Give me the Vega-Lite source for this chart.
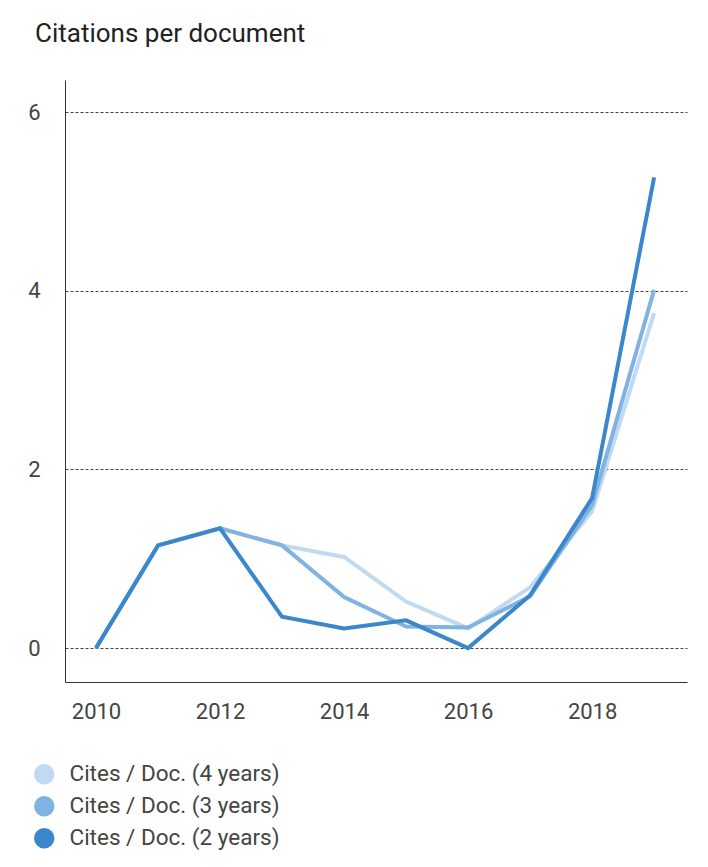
{
  "$schema": "https://vega.github.io/schema/vega-lite/v6.json",
  "width": 622,
  "height": 602,
  "autosize": {"type": "none"},
  "padding": {"left": 65, "top": 80, "right": 21, "bottom": 185},
  "background": "white",
  "title": {
    "text": "Citations per document",
    "anchor": "start",
    "frame": "group",
    "dx": -30,
    "offset": 33,
    "font": "Roboto",
    "fontSize": 26,
    "fontWeight": "normal",
    "color": "#222222"
  },
  "config": {
    "font": "Roboto",
    "view": {"stroke": null},
    "axis": {
      "labelFont": "Roboto",
      "labelFontSize": 22,
      "labelColor": "#444444",
      "domainColor": "#333333",
      "domainWidth": 1,
      "ticks": false,
      "title": null
    }
  },
  "data": {
    "values": [
      {"year": 2010, "series": "Cites / Doc. (4 years)", "value": 0},
      {"year": 2011, "series": "Cites / Doc. (4 years)", "value": 1.15},
      {"year": 2012, "series": "Cites / Doc. (4 years)", "value": 1.34},
      {"year": 2013, "series": "Cites / Doc. (4 years)", "value": 1.15},
      {"year": 2014, "series": "Cites / Doc. (4 years)", "value": 1.02},
      {"year": 2015, "series": "Cites / Doc. (4 years)", "value": 0.52},
      {"year": 2016, "series": "Cites / Doc. (4 years)", "value": 0.22},
      {"year": 2017, "series": "Cites / Doc. (4 years)", "value": 0.68},
      {"year": 2018, "series": "Cites / Doc. (4 years)", "value": 1.53},
      {"year": 2019, "series": "Cites / Doc. (4 years)", "value": 3.75},
      {"year": 2010, "series": "Cites / Doc. (3 years)", "value": 0},
      {"year": 2011, "series": "Cites / Doc. (3 years)", "value": 1.15},
      {"year": 2012, "series": "Cites / Doc. (3 years)", "value": 1.34},
      {"year": 2013, "series": "Cites / Doc. (3 years)", "value": 1.15},
      {"year": 2014, "series": "Cites / Doc. (3 years)", "value": 0.57},
      {"year": 2015, "series": "Cites / Doc. (3 years)", "value": 0.24},
      {"year": 2016, "series": "Cites / Doc. (3 years)", "value": 0.23},
      {"year": 2017, "series": "Cites / Doc. (3 years)", "value": 0.58},
      {"year": 2018, "series": "Cites / Doc. (3 years)", "value": 1.6},
      {"year": 2019, "series": "Cites / Doc. (3 years)", "value": 4.01},
      {"year": 2010, "series": "Cites / Doc. (2 years)", "value": 0},
      {"year": 2011, "series": "Cites / Doc. (2 years)", "value": 1.15},
      {"year": 2012, "series": "Cites / Doc. (2 years)", "value": 1.34},
      {"year": 2013, "series": "Cites / Doc. (2 years)", "value": 0.35},
      {"year": 2014, "series": "Cites / Doc. (2 years)", "value": 0.22},
      {"year": 2015, "series": "Cites / Doc. (2 years)", "value": 0.31},
      {"year": 2016, "series": "Cites / Doc. (2 years)", "value": 0},
      {"year": 2017, "series": "Cites / Doc. (2 years)", "value": 0.59},
      {"year": 2018, "series": "Cites / Doc. (2 years)", "value": 1.68},
      {"year": 2019, "series": "Cites / Doc. (2 years)", "value": 5.27}
    ]
  },
  "encoding": {
    "x": {
      "field": "year",
      "type": "quantitative",
      "scale": {"domain": [2009.5, 2019.53], "nice": false, "zero": false},
      "axis": {
        "values": [2010, 2012, 2014, 2016, 2018],
        "format": "d",
        "grid": false,
        "labelPadding": 19
      }
    },
    "y": {
      "field": "value",
      "type": "quantitative",
      "scale": {"domain": [-0.38, 6.36], "nice": false, "zero": false},
      "axis": {
        "values": [0, 2, 4, 6],
        "grid": true,
        "gridColor": "#444444",
        "gridDash": [3, 2],
        "gridWidth": 1,
        "labelPadding": 25
      }
    },
    "color": {
      "field": "series",
      "type": "nominal",
      "scale": {
        "domain": ["Cites / Doc. (4 years)", "Cites / Doc. (3 years)", "Cites / Doc. (2 years)"],
        "range": ["#bfdaf1", "#80b3e1", "#3a87cc"]
      },
      "legend": {
        "title": null,
        "orient": "none",
        "legendX": -32,
        "legendY": 683,
        "symbolType": "circle",
        "symbolSize": 420,
        "symbolStrokeWidth": 0,
        "labelFont": "Roboto",
        "labelFontSize": 22.5,
        "labelColor": "#444444",
        "labelLimit": 400,
        "labelOffset": 14,
        "rowPadding": 9,
        "direction": "vertical",
        "encode": {
          "symbols": {
            "update": {
              "fill": {"scale": "color", "field": "value"},
              "fillOpacity": {"value": 1},
              "strokeWidth": {"value": 0}
            }
          }
        }
      }
    }
  },
  "layer": [
    {"transform": [{"filter": "datum.series == 'Cites / Doc. (4 years)'"}], "mark": {"type": "line", "strokeWidth": 4}},
    {"transform": [{"filter": "datum.series == 'Cites / Doc. (3 years)'"}], "mark": {"type": "line", "strokeWidth": 4}},
    {"transform": [{"filter": "datum.series == 'Cites / Doc. (2 years)'"}], "mark": {"type": "line", "strokeWidth": 4}}
  ]
}
